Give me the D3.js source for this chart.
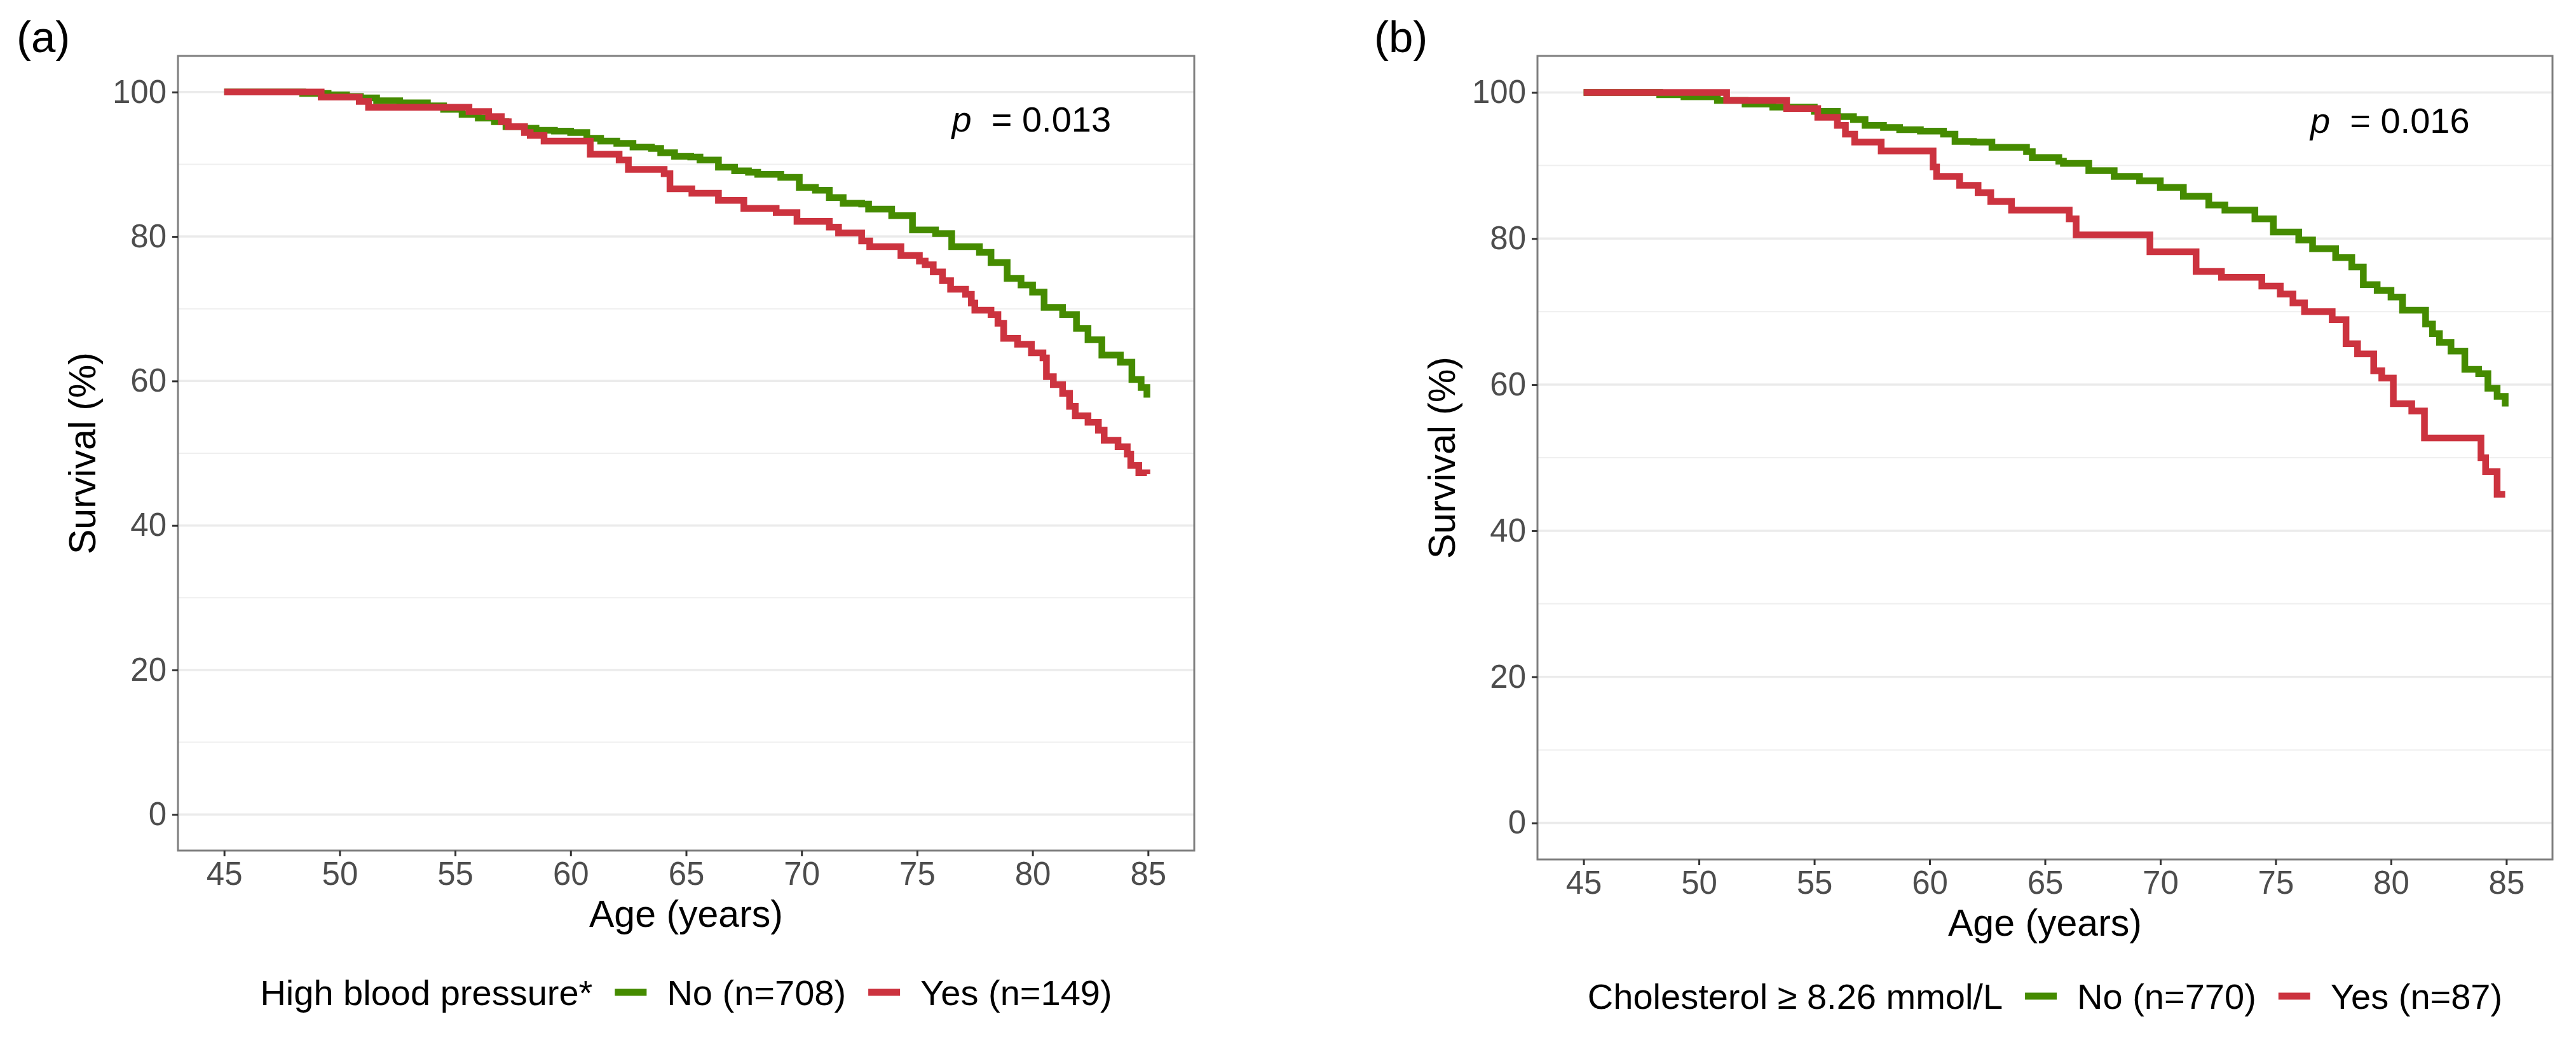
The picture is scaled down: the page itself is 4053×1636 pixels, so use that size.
<!DOCTYPE html>
<html>
<head>
<meta charset="utf-8">
<script src="https://cdn.jsdelivr.net/npm/d3@7"></script>
<style>
  body { margin: 0; background: #fff; }
  text { font-family: "Liberation Sans", Arial, sans-serif; }
</style>
</head>
<body>
<svg id="chart" width="4053" height="1636"></svg>
<script>
// Axis ticks
const ageTicks = [45, 50, 55, 60, 65, 70, 75, 80, 85];
const survTicks = [0, 20, 40, 60, 80, 100];
const survMinor = [10, 30, 50, 70, 90];

// (a) High blood pressure - No (n=708)
const bpNoAge = [45, 48.4, 49.5, 50.3, 50.9, 51.6, 52.6, 53.8, 54.5, 55.3, 56.0, 56.7, 57.2, 58.0, 58.5, 59.3, 60.0, 60.7, 61.3, 62.0, 62.7, 63.5, 63.9, 64.5, 65.2, 65.6, 66.4, 67.1, 67.7, 68.1, 69.1, 69.9, 70.6, 71.2, 71.8, 72.6, 72.9, 73.9, 74.8, 75.8, 76.5, 77.7, 78.2, 78.9, 79.5, 80.0, 80.5, 81.3, 81.9, 82.4, 83.0, 83.8, 84.3, 84.7, 84.95];
const bpNoSurv = [100, 99.8, 99.6, 99.4, 99.2, 98.8, 98.5, 98.1, 97.6, 96.9, 96.4, 95.9, 95.2, 95.0, 94.7, 94.6, 94.4, 93.6, 93.2, 92.9, 92.4, 92.2, 91.6, 91.1, 91.0, 90.6, 89.6, 89.1, 88.9, 88.6, 88.2, 86.8, 86.4, 85.4, 84.6, 84.5, 83.8, 82.9, 80.9, 80.4, 78.6, 77.8, 76.4, 74.2, 73.3, 72.3, 70.2, 69.2, 67.3, 65.7, 63.6, 62.6, 60.2, 59.1, 57.7];

// (a) High blood pressure - Yes (n=149)
const bpYesAge = [45, 49.2, 50.85, 51.25, 55.6, 56.45, 57.0, 57.3, 58.0, 58.25, 58.85, 60.85, 62.1, 62.5, 64.05, 64.3, 65.25, 66.4, 67.5, 68.9, 69.8, 71.2, 71.6, 72.6, 72.95, 74.3, 75.1, 75.35, 75.7, 76.1, 76.45, 77.1, 77.35, 77.5, 78.2, 78.5, 78.75, 79.35, 79.95, 80.45, 80.6, 80.9, 81.3, 81.6, 81.85, 82.4, 82.85, 83.1, 83.7, 84.1, 84.25, 84.6, 84.95];
const bpYesSurv = [100, 99.3, 98.7, 97.9, 97.3, 96.6, 95.9, 95.2, 94.4, 94.0, 93.2, 91.4, 90.6, 89.3, 88.7, 86.6, 86.0, 85.0, 83.9, 83.3, 82.1, 81.3, 80.5, 79.4, 78.6, 77.4, 76.6, 76.1, 75.1, 73.9, 72.7, 72.0, 70.8, 69.8, 69.2, 68.0, 65.9, 65.1, 63.9, 63.2, 60.6, 59.5, 58.3, 56.5, 55.2, 54.3, 53.2, 51.8, 50.9, 49.9, 48.3, 47.3, 47.1];

// (b) Cholesterol - No (n=770)
const cholNoAge = [45, 48.3, 49.35, 50.8, 52.0, 53.2, 55.0, 56.0, 56.7, 57.2, 58.0, 58.7, 59.6, 60.6, 61.1, 61.9, 62.7, 64.2, 64.45, 65.6, 65.8, 66.9, 68.0, 69.1, 70.0, 71.0, 72.1, 72.8, 74.1, 74.9, 76.0, 76.6, 77.6, 78.3, 78.8, 79.4, 80.0, 80.5, 81.5, 81.8, 82.1, 82.6, 83.2, 83.8, 84.2, 84.6, 84.95];
const cholNoSurv = [100, 99.7, 99.4, 98.9, 98.4, 98.0, 97.4, 96.7, 96.3, 95.5, 95.2, 94.9, 94.7, 94.3, 93.3, 93.2, 92.5, 91.9, 91.1, 90.6, 90.3, 89.3, 88.5, 87.9, 87.0, 85.8, 84.6, 83.9, 82.7, 80.9, 79.8, 78.6, 77.4, 76.1, 73.7, 72.9, 72.0, 70.2, 68.3, 67.0, 65.8, 64.6, 62.1, 61.5, 59.5, 58.4, 57.0];

// (b) Cholesterol - Yes (n=87)
const cholYesAge = [45, 51.2, 53.8, 55.15, 56.0, 56.35, 56.75, 57.9, 60.15, 60.3, 61.3, 62.1, 62.65, 63.55, 66.05, 66.35, 69.55, 71.55, 72.65, 74.4, 75.2, 75.75, 76.25, 77.45, 78.05, 78.55, 79.25, 79.6, 80.1, 80.9, 81.45, 83.9, 84.1, 84.6, 84.95];
const cholYesSurv = [100, 98.9, 97.8, 96.6, 95.5, 94.3, 93.2, 92.0, 89.8, 88.5, 87.3, 86.3, 85.1, 83.9, 82.7, 80.5, 78.2, 75.5, 74.7, 73.5, 72.4, 71.2, 70.0, 68.9, 65.6, 64.2, 61.9, 60.9, 57.4, 56.4, 52.7, 50.0, 48.1, 45.0, 45.0];

const green = "#458B00";
const red = "#CC333F";

const zip = (a, b) => a.map((v, i) => [v, b[i]]);

// Panel settings (positions in pixels of the 4053 x 1636 figure)
const panels = [
  {
    tag: "(a)", tagX: 26,
    left: 280, right: 1879, top: 88, bottom: 1338,
    pval: "0.013",
    legendTitle: "High blood pressure*", legendY: 1561,
    series: [
      { name: "No (n=708)", color: green, data: zip(bpNoAge, bpNoSurv) },
      { name: "Yes (n=149)", color: red, data: zip(bpYesAge, bpYesSurv) },
    ],
  },
  {
    tag: "(b)", tagX: 2162,
    left: 2419, right: 4016, top: 88, bottom: 1352,
    pval: "0.016",
    legendTitle: "Cholesterol \u2265 8.26 mmol/L", legendY: 1567,
    series: [
      { name: "No (n=770)", color: green, data: zip(cholNoAge, cholNoSurv) },
      { name: "Yes (n=87)", color: red, data: zip(cholYesAge, cholYesSurv) },
    ],
  },
];

const svg = d3.select("#chart");
svg.append("rect").attr("width", 4053).attr("height", 1636).attr("fill", "#fff");

function drawPanel(p) {
  const g = svg.append("g");

  const x = d3.scaleLinear().domain([43, 87]).range([p.left, p.right]);
  const y = d3.scaleLinear().domain([-5, 105]).range([p.bottom, p.top]);

  // horizontal grid only
  g.selectAll(".minor")
    .data(survMinor)
    .enter()
    .append("line")
    .attr("x1", p.left).attr("x2", p.right)
    .attr("y1", (d) => y(d)).attr("y2", (d) => y(d))
    .attr("stroke", "#efefef")
    .attr("stroke-width", 2);

  g.selectAll(".major")
    .data(survTicks)
    .enter()
    .append("line")
    .attr("x1", p.left).attr("x2", p.right)
    .attr("y1", (d) => y(d)).attr("y2", (d) => y(d))
    .attr("stroke", "#ebebeb")
    .attr("stroke-width", 3.5);

  // survival curves
  const line = d3
    .line()
    .x((d) => x(d[0]))
    .y((d) => y(d[1]))
    .curve(d3.curveStepAfter);

  p.series.forEach((s) => {
    g.append("path")
      .attr("d", line(s.data))
      .attr("fill", "none")
      .attr("stroke", s.color)
      .attr("stroke-width", 10.5)
      .attr("stroke-linejoin", "miter");
  });

  // panel border
  g.append("rect")
    .attr("x", p.left).attr("y", p.top)
    .attr("width", p.right - p.left).attr("height", p.bottom - p.top)
    .attr("fill", "none")
    .attr("stroke", "#7f7f7f")
    .attr("stroke-width", 3);

  // axes
  const xAxis = g
    .append("g")
    .attr("transform", `translate(0, ${p.bottom})`)
    .call(d3.axisBottom(x).tickValues(ageTicks).tickSize(9).tickPadding(9));

  const yAxis = g
    .append("g")
    .attr("transform", `translate(${p.left}, 0)`)
    .call(d3.axisLeft(y).tickValues(survTicks).tickSize(9).tickPadding(9));

  [xAxis, yAxis].forEach((ax) => {
    ax.select(".domain").remove();
    ax.selectAll(".tick line").attr("stroke", "#333").attr("stroke-width", 3);
    ax.selectAll(".tick text")
      .attr("fill", "#4d4d4d")
      .style("font-size", "51px")
      .style("font-family", '"Liberation Sans", Arial, sans-serif');
  });

  // axis titles
  g.append("text")
    .attr("x", (p.left + p.right) / 2)
    .attr("y", p.bottom + 120)
    .attr("text-anchor", "middle")
    .style("font-size", "59px")
    .text("Age (years)");

  g.append("text")
    .attr("transform", `translate(${p.left - 130}, ${(p.top + p.bottom) / 2}) rotate(-90)`)
    .attr("text-anchor", "middle")
    .style("font-size", "59px")
    .text("Survival (%)");

  // panel tag
  svg.append("text")
    .attr("x", p.tagX)
    .attr("y", 82)
    .style("font-size", "69px")
    .text(p.tag);

  // p value
  const pv = g.append("text")
    .attr("x", x(76.5))
    .attr("y", y(94.5))
    .style("font-size", "56px")
    .style("white-space", "pre");
  pv.append("tspan").style("font-style", "italic").text("p");
  pv.append("tspan").text("\u00a0\u00a0= " + p.pval);

  // legend (laid out from measured text widths, centred on the panel)
  const leg = g.append("g").attr("transform", `translate(0, ${p.legendY})`);
  const fs = 56;
  let cx = 0;
  const title = leg.append("text")
    .attr("x", cx).attr("dy", "0.35em")
    .style("font-size", fs + "px")
    .text(p.legendTitle);
  cx += title.node().getComputedTextLength() + 35;

  p.series.forEach((s, i) => {
    leg.append("line")
      .attr("x1", cx).attr("x2", cx + 50)
      .attr("y1", 0).attr("y2", 0)
      .attr("stroke", s.color)
      .attr("stroke-width", 11);
    cx += 50 + 32;
    const t = leg.append("text")
      .attr("x", cx).attr("dy", "0.35em")
      .style("font-size", fs + "px")
      .text(s.name);
    cx += t.node().getComputedTextLength() + (i === 0 ? 35 : 0);
  });

  const shift = (p.left + p.right) / 2 - cx / 2;
  leg.attr("transform", `translate(${shift}, ${p.legendY})`);
}

panels.forEach(drawPanel);
</script>
</body>
</html>
